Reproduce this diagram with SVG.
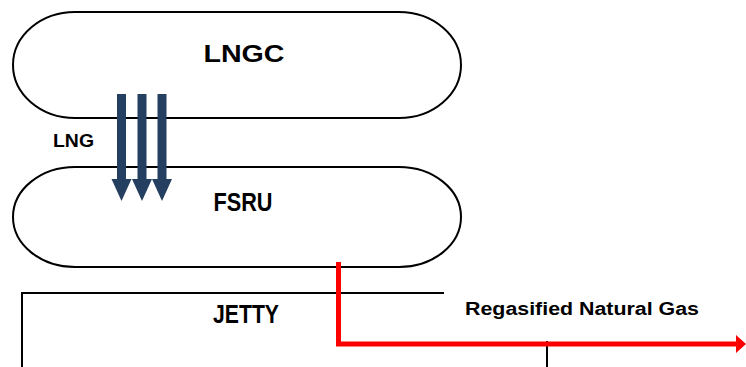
<svg xmlns="http://www.w3.org/2000/svg" width="746" height="367" viewBox="0 0 746 367">
<defs>
<style>
.ship{fill:#fff;stroke:#000;stroke-width:2}
.lbl{font-family:"Liberation Sans",Arial,sans-serif;font-weight:bold;fill:#000}
.blue{fill:#243f60}
.line{stroke:#000;stroke-width:2;fill:none}
</style>
<marker id="redHead" markerWidth="2.2" markerHeight="3.8" refX="0" refY="1.8" orient="auto" markerUnits="strokeWidth">
<path d="M0,0 L2,1.8 L0,3.6 Z" fill="#ff0000"/>
</marker>
</defs>
<g id="jetty">
<path class="line" d="M22,367 L22,293 L444,293"/>
<line class="line" x1="547" y1="341" x2="547" y2="367"/>
<text class="lbl" x="246" y="323" font-size="25" text-anchor="middle" textLength="66" lengthAdjust="spacingAndGlyphs">JETTY</text>
</g>
<g id="lngc">
<rect class="ship" x="13" y="12" width="448" height="106" rx="62" ry="53"/>
<text class="lbl" x="244" y="62" font-size="24" text-anchor="middle" textLength="81" lengthAdjust="spacingAndGlyphs">LNGC</text>
</g>
<g id="fsru">
<rect class="ship" x="13" y="167" width="448" height="100" rx="62" ry="50"/>
<text class="lbl" x="243" y="211" font-size="25" text-anchor="middle" textLength="59" lengthAdjust="spacingAndGlyphs">FSRU</text>
</g>
<g id="connectors">
<g id="lng-transfer" class="blue">
<path d="M117,94 H126 V179 H131.5 L121.5,201 L111.5,179 H117 Z"/>
<path d="M137.5,94 H146.5 V179 H152 L142,201 L132,179 H137.5 Z"/>
<path d="M157.5,94 H166.5 V179 H172 L162,201 L152,179 H157.5 Z"/>
</g>
<text class="lbl" x="53" y="147" font-size="18" textLength="41" lengthAdjust="spacingAndGlyphs">LNG</text>
<path d="M338.5,262 V344 H736" fill="none" stroke="#ff0000" stroke-width="5" marker-end="url(#redHead)"/>
<text class="lbl" x="465" y="315" font-size="18" textLength="234" lengthAdjust="spacingAndGlyphs">Regasified Natural Gas</text>
</g>
</svg>
